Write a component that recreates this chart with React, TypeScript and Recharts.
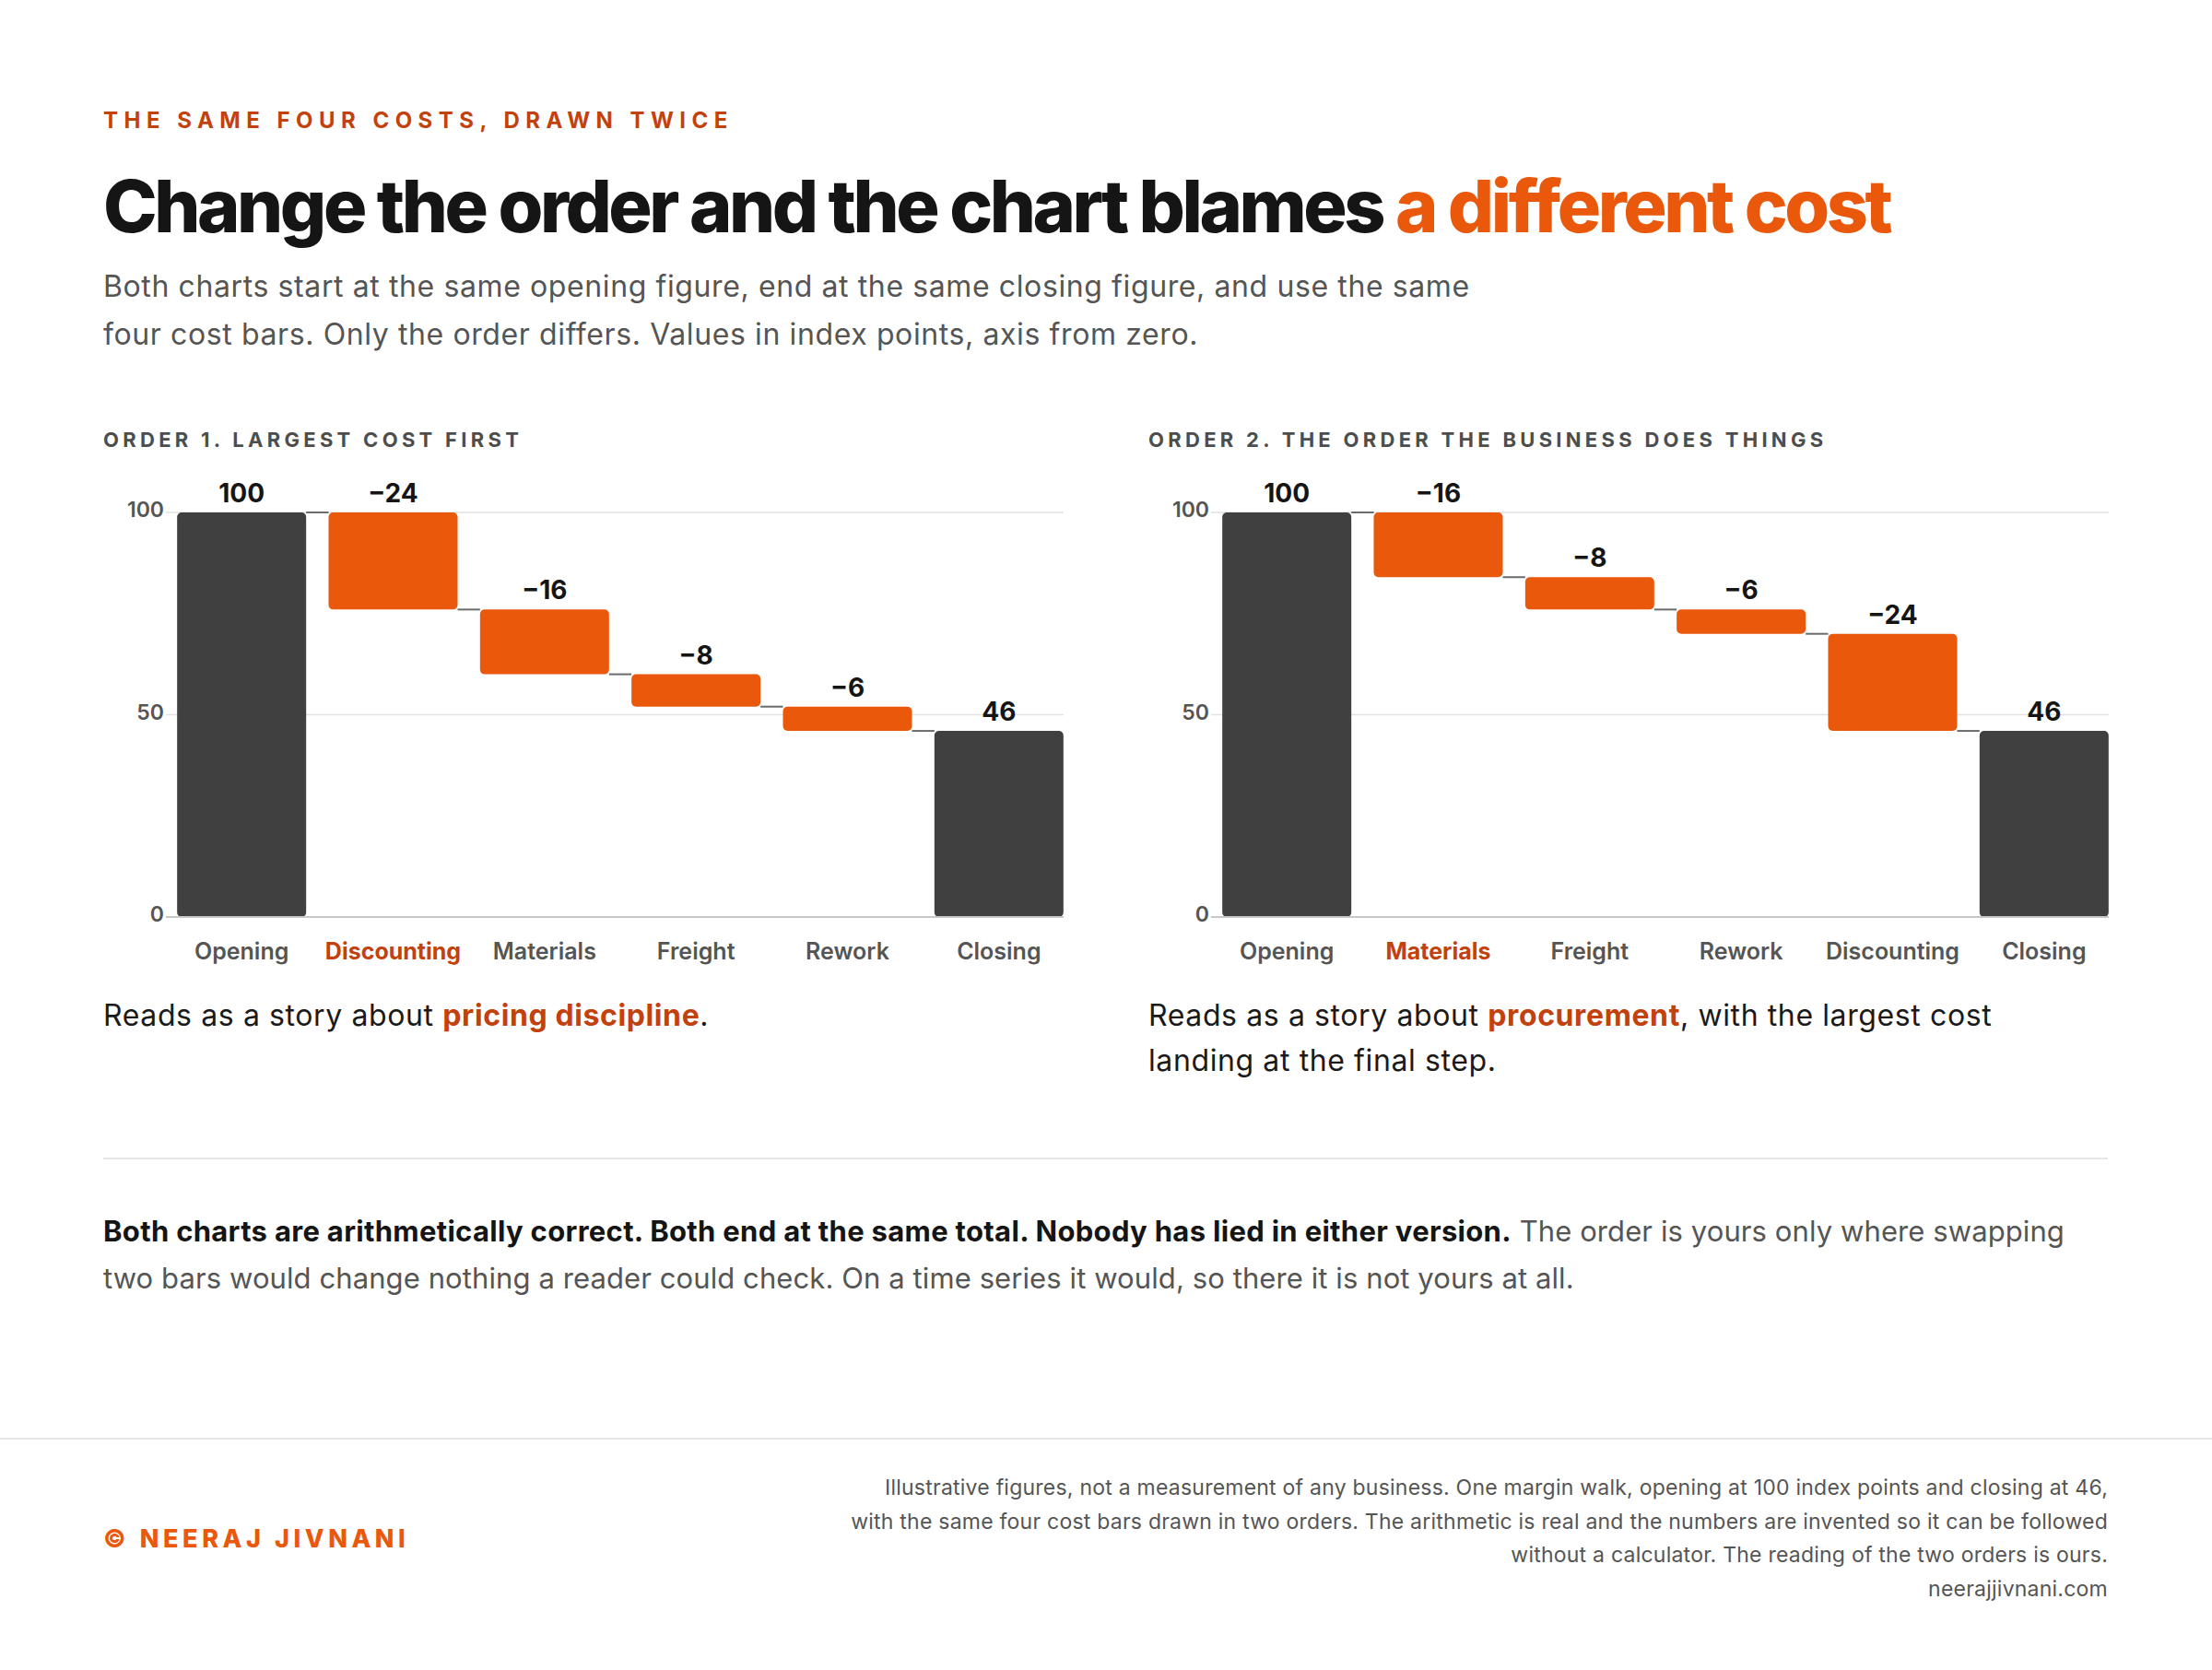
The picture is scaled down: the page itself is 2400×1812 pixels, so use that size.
import React from 'react';
import { BarChart, Bar, XAxis, YAxis, CartesianGrid, LabelList, Rectangle } from 'recharts';

// ---- data ----
const categories1 = ['Opening', 'Discounting', 'Materials', 'Freight', 'Rework', 'Closing'];
const values1 = [100, -24, -16, -8, -6, 46];
const categories2 = ['Opening', 'Materials', 'Freight', 'Rework', 'Discounting', 'Closing'];
const values2 = [100, -16, -8, -6, -24, 46];
const kinds = ['total', 'cost', 'cost', 'cost', 'cost', 'total'];
const yTicks = [0, 50, 100];
const highlight1 = 'Discounting';
const highlight2 = 'Materials';

const FONT = 'Inter, "Noto Sans", sans-serif';
const DARK = '#404040';
const ORANGE = '#ea580c';
const DEEP = '#c2410c';
const GAP = 0.074;

const fmt = (v: number) => (v < 0 ? '\u2212' + Math.abs(v) : String(v));

function buildRows(cats: string[], vals: number[]) {
  let running = 0;
  return cats.map((name, i) => {
    const v = vals[i];
    const kind = kinds[i];
    let base = 0;
    let size = 0;
    let connect: 'top' | 'bottom' | null = null;
    if (kind === 'total') {
      base = 0;
      size = v;
      running = v;
      connect = i < cats.length - 1 ? 'top' : null;
    } else {
      running = running + v;
      base = running;
      size = -v;
      connect = 'bottom';
    }
    return { name, base, size, kind, connect, label: fmt(v) };
  });
}

const WaterShape = (props: any) => {
  const { x, y, width, height, payload } = props;
  const fill = payload.kind === 'total' ? DARK : ORANGE;
  const gap = (width * 2 * GAP) / (1 - 2 * GAP);
  let ly: number | null = null;
  if (payload.connect === 'top') ly = y;
  if (payload.connect === 'bottom') ly = y + height;
  return (
    <g>
      <Rectangle x={x} y={y} width={width} height={height} radius={5} fill={fill} />
      {ly !== null && (
        <line x1={x + width} x2={x + width + gap} y1={ly} y2={ly} stroke="#6b6b6b" strokeWidth={2} />
      )}
    </g>
  );
};

const makeTick = (hl: string) => (props: any) => {
  const { x, y, payload } = props;
  const on = payload.value === hl;
  return (
    <text
      x={x}
      y={y}
      dy="0.71em"
      textAnchor="middle"
      fill={on ? DEEP : '#555555'}
      fontWeight={on ? 700 : 600}
      fontSize={25}
      fontFamily={FONT}
    >
      {payload.value}
    </text>
  );
};

const YTick = (props: any) => {
  const { x, y, payload } = props;
  return (
    <text x={x} y={y} dy="0.355em" textAnchor="end" fill="#555555" fontWeight={600} fontSize={23} fontFamily={FONT} transform="translate(0,-3)">
      {payload.value}
    </text>
  );
};

function Waterfall({ cats, vals, hl }: { cats: string[]; vals: number[]; hl: string }) {
  const rows = buildRows(cats, vals);
  return (
    <BarChart
      width={1042}
      height={555}
      data={rows}
      margin={{ top: 56, right: 0, bottom: 0, left: 0 }}
      barCategoryGap={GAP * 100 + '%'}
    >
      <CartesianGrid vertical={false} stroke="#e2e2e2" strokeWidth={1.5} />
      <YAxis
        domain={[0, 100]}
        ticks={yTicks}
        width={68}
        tickLine={false}
        axisLine={false}
        tickSize={0}
        tickMargin={2}
        tick={<YTick />}
      />
      <XAxis
        dataKey="name"
        interval={0}
        tickLine={false}
        tickSize={0}
        tickMargin={28}
        height={60}
        padding={{ left: 0, right: -12 }}
        axisLine={{ stroke: '#c8c8c8', strokeWidth: 2 }}
        tick={makeTick(hl)}
      />
      <Bar dataKey="base" stackId="w" fill="transparent" isAnimationActive={false} />
      <Bar dataKey="size" stackId="w" shape={WaterShape} isAnimationActive={false}>
        <LabelList
          dataKey="label"
          position="top"
          offset={11}
          fill="#151515"
          fontSize={28}
          fontWeight={700}
          fontFamily={FONT}
        />
      </Bar>
    </BarChart>
  );
}

const abs = (left: number, top: number, extra: React.CSSProperties = {}): React.CSSProperties => ({
  position: 'absolute',
  left,
  top,
  margin: 0,
  fontFamily: FONT,
  whiteSpace: 'nowrap',
  ...extra,
});

export default function App() {
  return (
    <div style={{ position: 'absolute', left: 0, top: 0, width: 2400, height: 1812, background: '#ffffff', overflow: 'hidden' }}>
      <div style={abs(112, 116, { fontSize: 24, lineHeight: '30px', fontWeight: 700, letterSpacing: '0.27em', color: DEEP })}>
        THE SAME FOUR COSTS, DRAWN TWICE
      </div>
      <div style={abs(112, 178, { fontSize: 79, lineHeight: '90px', fontWeight: 800, letterSpacing: '-0.0435em', color: '#151515' })}>
        Change the order and the chart blames <span style={{ color: ORANGE }}>a different cost</span>
      </div>
      <div style={abs(112, 285, { fontSize: 32, lineHeight: '52px', fontWeight: 400, letterSpacing: '0.019em', color: '#555555' })}>
        Both charts start at the same opening figure, end at the same closing figure, and use the same
        <br />
        four cost bars. Only the order differs. Values in index points, axis from zero.
      </div>

      <div style={abs(112, 463, { fontSize: 22, lineHeight: '28px', fontWeight: 700, letterSpacing: '0.195em', color: '#4d4d4d' })}>
        ORDER 1. LARGEST COST FIRST
      </div>
      <div style={abs(1246, 463, { fontSize: 22, lineHeight: '28px', fontWeight: 700, letterSpacing: '0.195em', color: '#4d4d4d' })}>
        ORDER 2. THE ORDER THE BUSINESS DOES THINGS
      </div>

      <div style={{ position: 'absolute', left: 112, top: 500 }}>
        <Waterfall cats={categories1} vals={values1} hl={highlight1} />
      </div>
      <div style={{ position: 'absolute', left: 1246, top: 500 }}>
        <Waterfall cats={categories2} vals={values2} hl={highlight2} />
      </div>

      <div style={abs(112, 1077, { fontSize: 32, lineHeight: '49px', letterSpacing: '0.019em', color: '#1a1a1a' })}>
        Reads as a story about <span style={{ color: DEEP, fontWeight: 700 }}>pricing discipline</span>.
      </div>
      <div style={abs(1246, 1077, { fontSize: 32, lineHeight: '49px', letterSpacing: '0.019em', color: '#1a1a1a' })}>
        Reads as a story about <span style={{ color: DEEP, fontWeight: 700 }}>procurement</span>, with the largest cost
        <br />
        landing at the final step.
      </div>

      <div style={{ position: 'absolute', left: 112, top: 1256, width: 2175, height: 2, background: '#e6e6e6' }} />

      <div style={abs(112, 1310, { fontSize: 31, lineHeight: '51px', letterSpacing: '0.003em', color: '#555555' })}>
        <span style={{ color: '#151515', fontWeight: 700, letterSpacing: '0.01em' }}>
          Both charts are arithmetically correct. Both end at the same total. Nobody has lied in either version.
        </span>{' '}
        The order is yours only where swapping
        <br />
        two bars would change nothing a reader could check. On a time series it would, so there it is not yours at all.
      </div>

      <div style={{ position: 'absolute', left: 0, top: 1560, width: 2400, height: 2, background: '#e6e6e6' }} />

      <div style={abs(112, 1653, { fontSize: 27, lineHeight: '34px', fontWeight: 800, letterSpacing: '0.17em', color: ORANGE })}>
        © NEERAJ JIVNANI
      </div>
      <div style={abs(0, 1596, { width: 2287, textAlign: 'right', fontSize: 23, lineHeight: '36.5px', letterSpacing: '0.01em', color: '#555555' })}>
        Illustrative figures, not a measurement of any business. One margin walk, opening at 100 index points and closing at 46,
        <br />
        with the same four cost bars drawn in two orders. The arithmetic is real and the numbers are invented so it can be followed
        <br />
        without a calculator. The reading of the two orders is ours.
        <br />
        neerajjivnani.com
      </div>
    </div>
  );
}
